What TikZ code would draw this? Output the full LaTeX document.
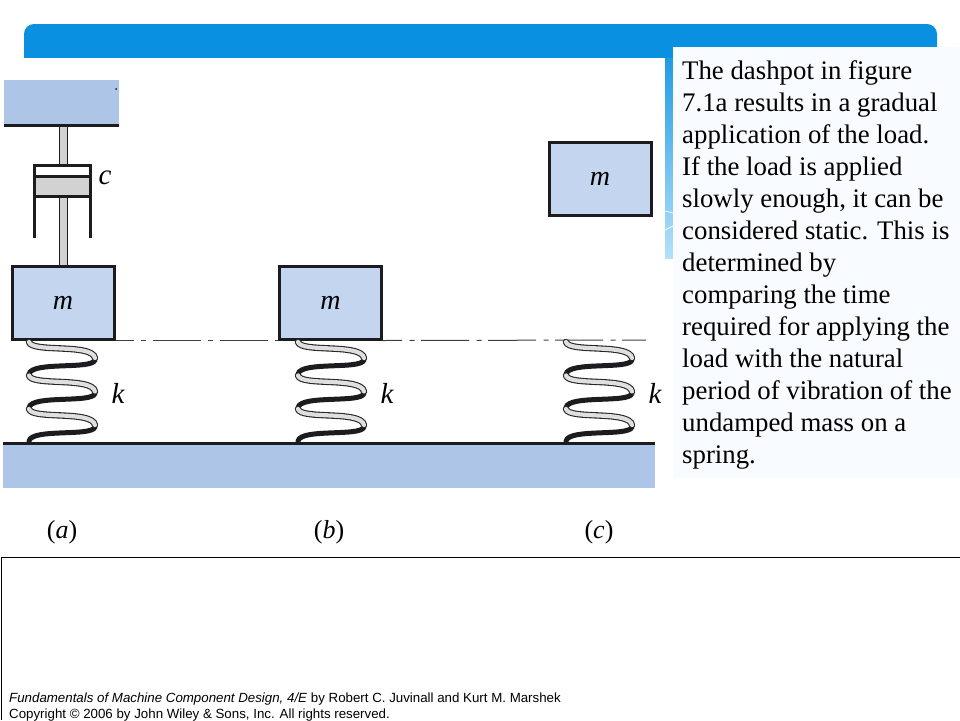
\documentclass[tikz,border=0pt]{standalone}
\usepackage{fontspec}
\setmainfont{Liberation Serif}
\setsansfont{Liberation Sans}
\definecolor{barblue}{HTML}{0A90E0}
\definecolor{fadeblue}{HTML}{B4E0FA}
\definecolor{panelblue}{HTML}{F8FBFF}
\definecolor{supportblue}{HTML}{ADC6E8}
\definecolor{massblue}{HTML}{C3D5EF}
\definecolor{inkblack}{HTML}{1C1C20}
\definecolor{rodgray}{HTML}{D2D2D2}
\tikzset{
  mass/.style = {draw=inkblack,line width=3pt,fill=massblue,
    minimum width=102pt,minimum height=73pt,inner sep=0pt,
    font=\fontsize{28}{28}\selectfont\itshape},
  sym/.style = {inner sep=0pt,font=\fontsize{29}{29}\selectfont\itshape},
  sublabel/.style = {inner sep=0pt,font=\fontsize{26}{26}\selectfont},
  rod/.style = {draw=inkblack,line width=1pt,fill=rodgray},
  wall/.style = {draw=inkblack,line width=3pt},
  block/.style = {fill=supportblue,inner sep=0pt},
  centerline/.style = {draw=black!75,line width=1pt,
    dash pattern=on 48pt off 7.5pt on 5pt off 6.5pt},
  coilback/.style = {draw=inkblack,line width=5pt,line cap=round},
  coilfront/.style = {draw=black!85,line width=6.4pt,line cap=round},
  coilfill/.style = {draw=rodgray!70,line width=4.2pt,line cap=round}
}
% one spring, left edge at #1
\newcommand{\coil}[1]{
  \foreach \n in {0,1,2}{
    \begin{scope}[shift={(#1,340+\n*33.5)}]
      \draw[coilback] (71,20) .. controls (68,30) and (8,21) .. (5,34);
    \end{scope}
  }
  \foreach \n in {0,1,2}{
    \begin{scope}[shift={(#1,340+\n*33.5)}]
      \draw[coilfront] (5,2) .. controls (8,13) and (68,3) .. (71,18);
      \draw[coilfill] (5,2) .. controls (8,13) and (68,3) .. (71,18);
    \end{scope}
  }
}

\begin{document}
\begin{tikzpicture}[x=1pt,y=-1pt]
  \useasboundingbox (0,0) rectangle (960,720);
  % slide background
  \fill[barblue,rounded corners=10pt] (24,70) -- (24,24) -- (937,24) -- (937,70) -- cycle;
  \fill[white] (24,58) rectangle (665,72);
  \shade[top color=barblue!90!white,bottom color=fadeblue] (665,58) rectangle (673,258);
  \draw[white,line width=.7pt] (665,211) -- (673,213);
  \draw[white,line width=.7pt] (665,230) -- (673,226);
  \node[fill=panelblue,minimum width=287pt,minimum height=431pt,inner sep=0pt]
    (panel) at (816.5,262.5) {};
  % blocks
  \node[block,minimum width=115pt,minimum height=46pt] (support) at (61.5,103) {};
  \node[block,minimum width=652pt,minimum height=45pt] (ground) at (329,465.5) {};
  \fill[inkblack] (116,89) circle (1pt);
  % dashpot
  \filldraw[rod] (59,126) rectangle (67,165);
  \filldraw[rod] (59,196) rectangle (67,265);
  \filldraw[wall,fill=rodgray] (34,176) rectangle (90,196);
  \draw[wall] (34,238) -- (34,165) -- (90,165) -- (90,238);
  % masses
  \node[mass] (massa) at (63,302.5) {m};
  \node[mass] (massb) at (330.5,302.5) {m};
  \node[mass] (massc) at (600,178.5) {m};
  % level line
  \coordinate (lineend) at (646,340);
  \draw[centerline,dash phase=30pt] (massa.south east) -- (massb.south west);
  \draw[centerline,dash phase=29pt] (massb.south east) -- (lineend);
  % springs
  \coil{24}
  \coil{293}
  \coil{561}
  \draw[wall] (4,125) -- (119,125);
  \draw[wall] (3,443) -- (655,443);
  % symbols
  \node[sym] (labelc) at (105,178) {c};
  \node[sym] (ka) at (118,393) {k};
  \node[sym] (kb) at (387,393) {k};
  \node[sym] (kc) at (655,393) {k};
  \node[sublabel] (suba) at (62,532) {(\textit{a})};
  \node[sublabel] (subb) at (329,532) {(\textit{b})};
  \node[sublabel] (subc) at (599,532) {(\textit{c})};
  % text
  \node[anchor=north west,inner sep=0pt,align=left,
    font=\fontsize{26.8}{32}\selectfont] (body) at (682,60) {The dashpot in figure\\
    7.1a results in a gradual\\
    application of the load.\\
    If the load is applied\\
    slowly enough, it can be\\
    considered static. This is\\
    determined by\\
    comparing the time\\
    required for applying the\\
    load with the natural\\
    period of vibration of the\\
    undamped mass on a\\
    spring.};
  % footer
  \coordinate (boxtl) at (1,557);
  \draw[black,line width=1pt] (1,720) -- (boxtl) -- (960,557);
  \node[anchor=north west,inner sep=0pt,align=left,
    font=\sffamily\fontsize{13.3}{16}\selectfont] (credit) at (9,692.5)
    {\textit{Fundamentals of Machine Component Design, 4/E} by Robert C. Juvinall and Kurt M. Marshek\\
    Copyright © 2006 by John Wiley \& Sons, Inc. All rights reserved.};
\end{tikzpicture}
\end{document}
